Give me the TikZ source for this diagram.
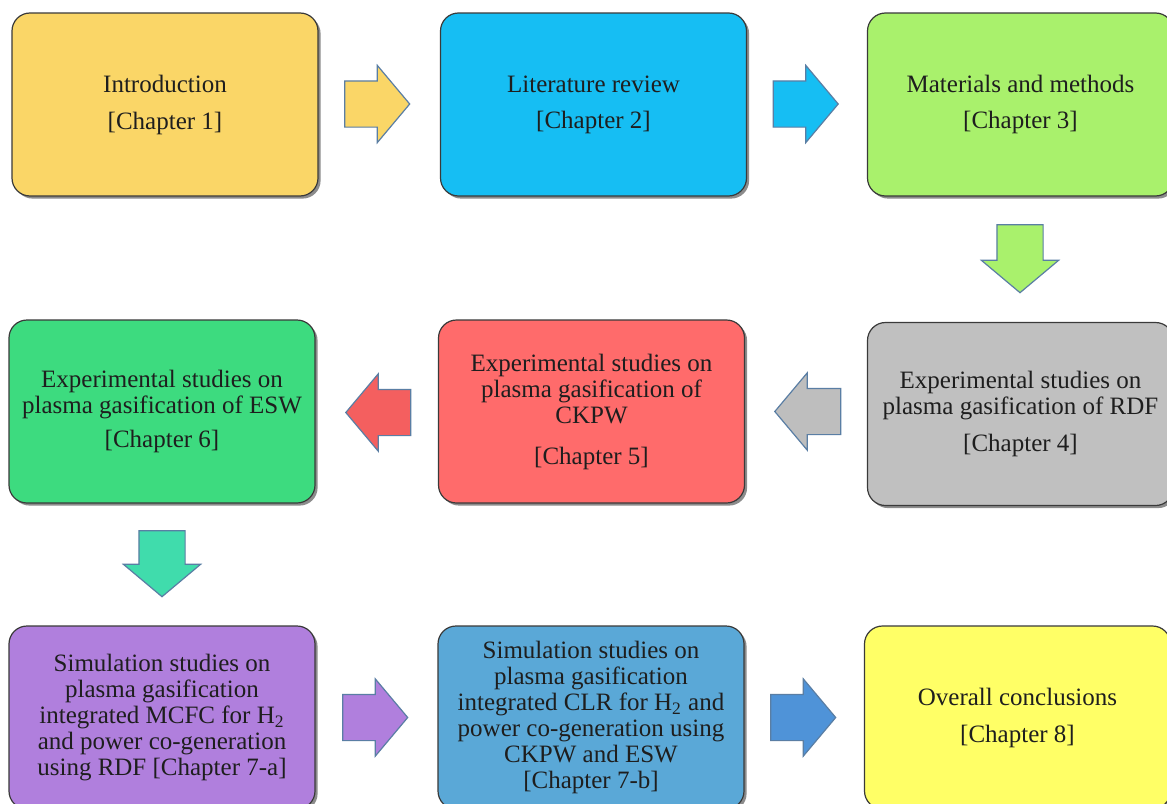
\documentclass[tikz,border=0pt]{standalone}
\usepackage{fontspec}
\setmainfont{Liberation Serif}
\usetikzlibrary{shapes.arrows,shadows}

\definecolor{cIntro}{HTML}{FAD667}
\definecolor{cLit}{HTML}{16BEF3}
\definecolor{cMat}{HTML}{A9F16C}
\definecolor{cRDF}{HTML}{C0C0C0}
\definecolor{cCKPW}{HTML}{FF6B6B}
\definecolor{cESW}{HTML}{3DDB7F}
\definecolor{cSimA}{HTML}{B07FDD}
\definecolor{cSimB}{HTML}{5AA8D7}
\definecolor{cConc}{HTML}{FFFF66}
\definecolor{aTeal}{HTML}{40DCAC}
\definecolor{aBlue}{HTML}{4F93D8}
\definecolor{aRed}{HTML}{F45F5F}
\definecolor{aGray}{HTML}{BEBEBE}
\definecolor{arrowedge}{HTML}{5A7EA4}
\definecolor{boxedge}{HTML}{3A3A3A}
\definecolor{ink}{HTML}{1E1E1E}

\newcommand{\shaftgauge}{\rule{0pt}{22.5pt}}

\tikzset{
  chapterbox/.style={rounded corners=9pt, draw=boxedge, line width=0.6pt,
    minimum width=153pt, minimum height=91.5pt, inner sep=0pt,
    align=center, text=ink,
    font=\fontsize{12.5pt}{13pt}\selectfont,
    drop shadow={shadow xshift=1.3pt, shadow yshift=-1.3pt, opacity=0.45, fill=black}},
  blockarrow/.style={single arrow, draw=arrowedge, line width=0.6pt,
    minimum height=32.5pt, minimum width=38pt,
    single arrow head extend=7.75pt, single arrow tip angle=100,
    inner sep=0pt}
}

\begin{document}
\begin{tikzpicture}[x=0.5pt,y=-0.5pt]
\clip (0,0) rectangle (1167,803);
\fill[white] (0,0) rectangle (1167,803);

% first row
\node[chapterbox, fill=cIntro] (b1) at (165,104.5)
  {Introduction\\[5.5pt][Chapter 1]};
\node[chapterbox, fill=cLit] (b2) at (593.5,104.5)
  {Literature review\\[5pt][Chapter 2]};
\node[chapterbox, fill=cMat] (b3) at (1020.5,104.5)
  {Materials and methods\\[5pt][Chapter 3]};

% second row
\node[chapterbox, fill=cRDF] (b4) at (1020.5,414)
  {Experimental studies on\\[0pt]plasma gasification of RDF\\[5.5pt][Chapter 4]};
\node[chapterbox, fill=cCKPW] (b5) at (591.5,411.5)
  {Experimental studies on\\[0pt]plasma gasification of\\[0pt]CKPW\\[7.5pt][Chapter 5]};
\node[chapterbox, fill=cESW] (b6) at (162,411.5)
  {Experimental studies on\\[0pt]plasma gasification of ESW\\[4pt][Chapter 6]};

% third row
\node[chapterbox, fill=cSimA] (b7a) at (162,717.5)
  {Simulation studies on\\[0pt]plasma gasification\\[0pt]integrated MCFC for H\textsubscript{2}\\[0pt]and power co-generation\\[0pt]using RDF [Chapter 7-a]};
\node[chapterbox, fill=cSimB] (b7b) at (591,717.5)
  {Simulation studies on\\[0pt]plasma gasification\\[0pt]integrated CLR for H\textsubscript{2} and\\[0pt]power co-generation using\\[0pt]CKPW and ESW\\[0pt][Chapter 7-b]};
\node[chapterbox, fill=cConc] (b8) at (1017.5,717.5)
  {Overall conclusions\\[5.5pt][Chapter 8]};

% block arrows between the chapters (the invisible rule sets the shaft width)
\node[blockarrow, fill=cIntro] (a12) at (367.5,104) {\shaftgauge};
\node[blockarrow, fill=cLit] (a23) at (796,104) {\shaftgauge};
\node[blockarrow, fill=cMat, rotate=-90, minimum height=34pt] (a34) at (1020,249) {\shaftgauge};
\node[blockarrow, fill=aGray, rotate=180, minimum height=33pt] (a45) at (817.5,411.5) {\shaftgauge};
\node[blockarrow, fill=aRed, rotate=180] (a56) at (388,412.5) {\shaftgauge};
\node[blockarrow, fill=aTeal, rotate=-90, minimum height=33pt] (a67) at (162,554) {\shaftgauge};
\node[blockarrow, fill=cSimA] (a7ab) at (365.5,717.5) {\shaftgauge};
\node[blockarrow, fill=aBlue] (a7b8) at (793.5,717.5) {\shaftgauge};
\end{tikzpicture}
\end{document}
